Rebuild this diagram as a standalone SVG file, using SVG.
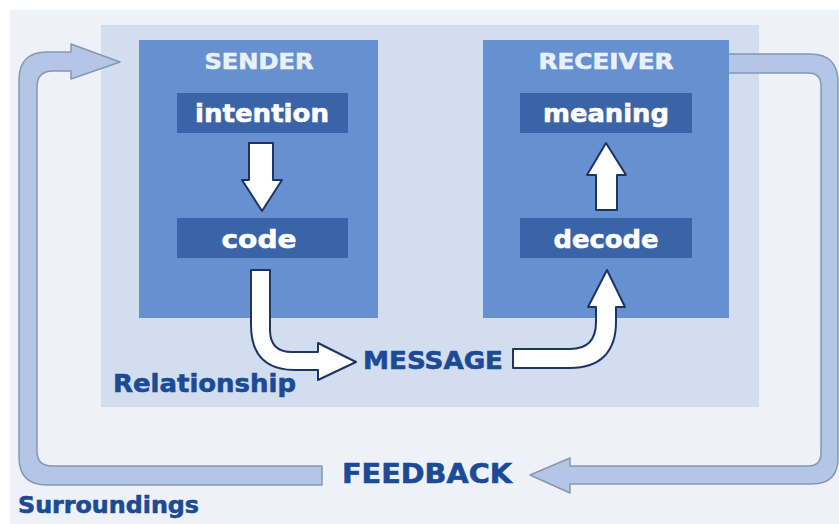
<svg xmlns="http://www.w3.org/2000/svg" width="839" height="524" viewBox="0 0 839 524">
  <style>
    .t { font-family: "DejaVu Sans", Verdana, sans-serif; font-weight: bold; stroke-width: 0.6; }
    .title { fill: #eaf0f9; stroke: #eaf0f9; font-size: 21px; text-anchor: middle; }
    .inner { fill: #ffffff; stroke: #ffffff; font-size: 25px; text-anchor: middle; }
    .lbl { fill: #1b4a97; stroke: #1b4a97; }
    .box { fill: #6690cf; }
    .ibox { fill: #3b64a8; }
    .fb { fill: #b3c6e5; stroke: #8597b5; stroke-width: 1.5; stroke-linejoin: round; }
    .wa { fill: #ffffff; stroke: #1d3565; stroke-width: 2; stroke-linejoin: round; }
  </style>
  <rect x="0" y="0" width="839" height="524" fill="#ffffff"/>
  <rect x="10" y="10" width="829" height="514" fill="#eef2f8"/>

  <g id="relationship">
    <rect x="101" y="25" width="658" height="382" fill="#d2def0"/>
    <text class="t lbl" x="113" y="392" font-size="25" textLength="183" lengthAdjust="spacingAndGlyphs">Relationship</text>
  </g>

  <g id="feedback-loop">
    <path class="fb" d="M 722 54 L 810 54 Q 838 54 838 82 L 838 458 Q 838 484 812 484 L 570 484 L 570 493 L 530 475 L 570 458 L 570 466 L 808 466 Q 821 466 821 453 L 821 86 Q 821 73 808 73 L 722 73 Z"/>
    <path class="fb" d="M 322 466 L 322 485 L 47 485 Q 19 485 19 457 L 19 80 Q 19 52 47 52 L 71 52 L 71 44 L 120 62 L 71 79 L 71 71 L 53 71 Q 37 71 37 87 L 37 451 Q 37 466 52 466 Z"/>
  </g>

  <g id="sender">
    <rect class="box" x="139" y="40" width="239" height="278"/>
    <text class="t title" x="259" y="69" textLength="109" lengthAdjust="spacingAndGlyphs">SENDER</text>
  </g>
  <g id="intention">
    <rect class="ibox" x="177" y="93" width="171" height="40"/>
    <text class="t inner" x="262" y="122" textLength="134" lengthAdjust="spacingAndGlyphs">intention</text>
  </g>
  <g id="code">
    <rect class="ibox" x="177" y="218" width="171" height="40"/>
    <text class="t inner" x="259" y="248" textLength="75" lengthAdjust="spacingAndGlyphs">code</text>
  </g>

  <g id="receiver">
    <rect class="box" x="483" y="40" width="246" height="278"/>
    <text class="t title" x="606" y="69" textLength="135" lengthAdjust="spacingAndGlyphs">RECEIVER</text>
  </g>
  <g id="meaning">
    <rect class="ibox" x="520" y="93" width="172" height="40"/>
    <text class="t inner" x="606" y="122" textLength="126" lengthAdjust="spacingAndGlyphs">meaning</text>
  </g>
  <g id="decode">
    <rect class="ibox" x="520" y="218" width="172" height="40"/>
    <text class="t inner" x="606" y="248" textLength="105" lengthAdjust="spacingAndGlyphs">decode</text>
  </g>

  <g id="message">
    <text class="t lbl" x="363" y="369" font-size="25" textLength="140" lengthAdjust="spacingAndGlyphs">MESSAGE</text>
  </g>
  <g id="feedback">
    <text class="t lbl" x="342" y="483" font-size="27" textLength="170" lengthAdjust="spacingAndGlyphs">FEEDBACK</text>
  </g>
  <g id="surroundings">
    <text class="t lbl" x="18" y="513" font-size="23" textLength="181" lengthAdjust="spacingAndGlyphs">Surroundings</text>
  </g>

  <g id="connectors">
    <path class="wa" d="M 249 143 L 273 143 L 273 180 L 282 180 L 262 211 L 242 180 L 249 180 Z"/>
    <path class="wa" d="M 596 210 L 596 175 L 587 175 L 606 143 L 626 175 L 617 175 L 617 210 Z"/>
    <path class="wa" d="M 251 270 L 270 270 L 270 330 Q 270 352 292 352 L 318 352 L 318 343 L 356 362 L 318 380 L 318 370 L 295 370 C 265 370 251 355 251 325 Z"/>
    <path class="wa" d="M 513 349 L 570 349 Q 596 349 596 322 L 596 307 L 588 307 L 607 270 L 625 307 L 616 307 L 616 322 C 616 352 600 368 570 368 L 513 368 Z"/>
  </g>
</svg>
